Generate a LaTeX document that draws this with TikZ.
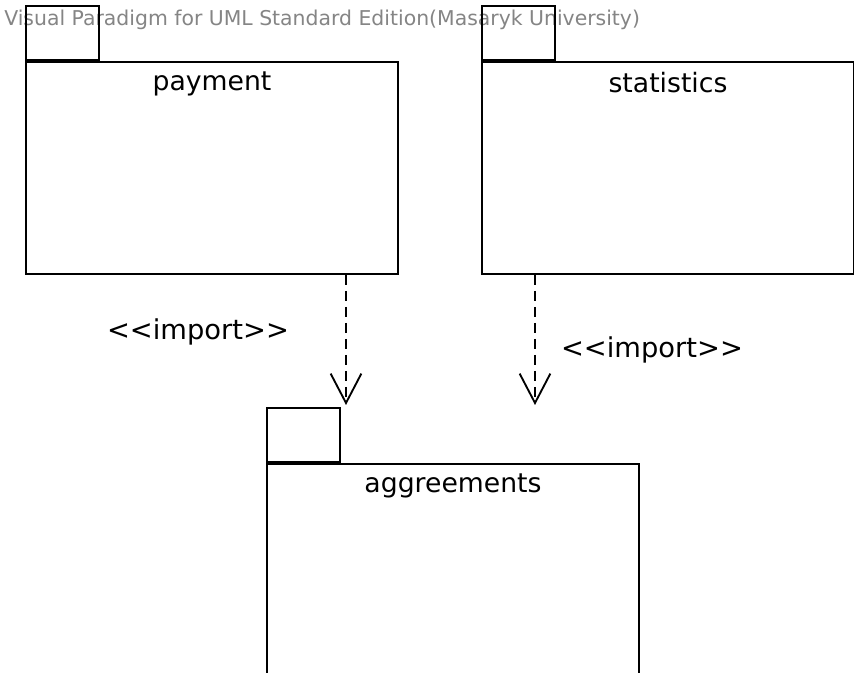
\documentclass[tikz,border=0pt]{standalone}
\usepackage{fontspec}
\setmainfont[Ligatures=NoCommon]{DejaVu Sans}
\usetikzlibrary{positioning,arrows.meta}

\tikzset{
  pkgbody/.style={draw,line width=1.5pt,rectangle,anchor=north west,inner sep=0pt},
  pkgtab/.style={draw,line width=1.5pt,rectangle,anchor=south west,inner sep=0pt,
    minimum width=54.75pt,minimum height=40.5pt},
  pkgname/.style={anchor=north,font=\fontsize{20}{22}\selectfont,inner sep=0pt},
  importarrow/.style={line width=1.4pt,dash pattern=on 7.5pt off 4.5pt,
    -{Straight Barb[length=22pt,width=23pt,line width=1.4pt]}},
  stereo/.style={font=\fontsize{20.5}{22}\selectfont,inner sep=0pt}
}

\begin{document}
\begin{tikzpicture}[x=0.75pt,y=-0.75pt]
  \clip (0,0) rectangle (854,673);
  \fill[white] (0,0) rectangle (854,673);
  % watermark
  \node[anchor=west,text=black!48,inner sep=0pt,font=\fontsize{15.3}{17}\selectfont]
    (wm) at (4,20) {Visual Paradigm for UML Standard Edition(Masaryk University)};
  % packages
  \node[pkgbody,minimum width=279pt,minimum height=159pt] (payment) at (25,61) {};
  \node[pkgtab] (paymenttab) at (payment.north west) {};
  \node[pkgname] (paymentname) at ([yshift=-8pt]payment.north) {payment};
  \node[pkgbody,minimum width=279pt,minimum height=159pt] (statistics) at (481,61) {};
  \node[pkgtab] (statisticstab) at (statistics.north west) {};
  \node[pkgname] (statisticsname) at ([yshift=-8pt]statistics.north) {statistics};
  \node[pkgbody,minimum width=279pt,minimum height=190pt] (aggreements) at (266,463) {};
  \node[pkgtab] (aggreementstab) at (aggreements.north west) {};
  \node[pkgname] (aggreementsname) at ([yshift=-8pt]aggreements.north) {aggreements};
  % imports
  \coordinate (imp1) at (346,405);
  \coordinate (imp2) at (535,405);
  \draw[importarrow] (payment.south -| imp1) -- (imp1);
  \draw[importarrow] (statistics.south -| imp2) -- (imp2);
  \node[stereo] (stereo1) at (198,332) {{<}{<}import{>}{>}};
  \node[stereo] (stereo2) at (652,350) {{<}{<}import{>}{>}};
\end{tikzpicture}
\end{document}
